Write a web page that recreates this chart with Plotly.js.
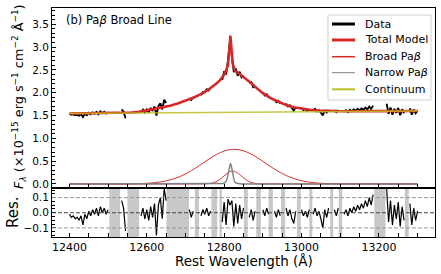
<!DOCTYPE html>
<html><head><meta charset="utf-8">
<script src="https://cdn.plot.ly/plotly-3.0.1.min.js"></script>
<style>html,body{margin:0;padding:0;background:#fff}#chart{width:441px;height:274px}</style>
</head><body><div id="chart"></div>
<script>
// Observed spectrum (rest wavelength, Å)
const wave=[12400,12405,12410,12415,12420,12425,12430,12435,12440,12445,12450,12455,12460,12465,12470,12475,12480,12485,12490,12495,
12500,12505,12510,12515,12520,12525,12530,12535,12540,12545,12550,12555,12560,12565,12570,12575,12580,12585,12590,12595,
12600,12605,12610,12615,12620,12625,12630,12635,12640,12645,12650,12655,12660,12665,12670,12675,12680,12685,12690,12695,
12700,12705,12710,12715,12720,12725,12730,12735,12740,12745,12750,12755,12760,12765,12770,12775,12780,12785,12790,12795,
12800,12805,12810,12815,12820,12825,12830,12835,12840,12845,12850,12855,12860,12865,12870,12875,12880,12885,12890,12895,
12900,12905,12910,12915,12920,12925,12930,12935,12940,12945,12950,12955,12960,12965,12970,12975,12980,12985,12990,12995,
13000,13005,13010,13015,13020,13025,13030,13035,13040,13045,13050,13055,13060,13065,13070,13075,13080,13085,13090,13095,
13100,13105,13110,13115,13120,13125,13130,13135,13140,13145,13150,13155,13160,13165,13170,13175,13180,13185,13190,13195,
13200,13205,13210,13215,13220,13225,13230,13235,13240,13245,13250,13255,13260,13265,13270,13275,13280,13285,13290,13295,
13300];
const flux=[1.535,1.515,1.526,1.506,1.516,1.497,1.527,1.467,1.537,1.508,1.558,1.528,1.569,1.539,1.579,1.530,1.590,1.550,1.581,1.541,
1.571,null,null,null,null,null,null,1.635,1.586,1.439,null,null,null,null,null,null,null,1.570,1.627,1.564,
1.630,1.567,1.665,1.602,1.700,1.498,1.707,1.766,1.635,1.845,1.775,null,null,null,null,null,null,null,null,null,
null,null,1.877,1.843,1.900,null,null,null,1.950,2.015,2.010,2.075,2.050,2.110,null,null,null,2.280,null,2.280,
2.470,2.400,2.710,3.150,2.780,2.450,2.530,2.370,2.460,2.340,2.380,null,null,2.215,2.230,2.120,2.140,null,null,null,
2.010,1.940,1.965,1.900,null,null,1.850,1.790,1.820,1.762,null,null,1.760,1.697,1.725,1.652,1.610,1.680,null,null,
1.665,1.620,1.645,1.600,1.645,null,1.610,1.644,1.590,1.617,1.565,1.502,1.620,1.569,1.628,null,null,1.617,1.576,1.626,
null,null,1.585,1.615,1.575,1.625,1.595,1.635,1.605,1.645,1.615,1.655,1.625,1.675,1.635,1.695,1.645,1.715,null,null,
null,null,null,null,1.757,1.537,1.677,1.517,1.647,1.557,1.667,1.507,1.637,1.547,null,null,1.659,1.519,1.629,1.549,
1.609];
const resid=[-0.01,-0.03,-0.02,-0.04,-0.03,-0.05,-0.02,-0.08,-0.01,-0.04,0.01,-0.02,0.02,-0.01,0.03,-0.02,0.04,0.00,0.03,-0.01,
0.02,null,null,null,null,null,null,0.08,0.03,-0.12,null,null,null,null,null,null,null,-0.02,0.03,-0.04,
0.02,-0.05,0.04,-0.03,0.06,-0.15,0.05,0.10,-0.04,0.16,0.08,null,null,null,null,null,null,null,null,null,
null,null,0.02,-0.03,0.01,null,null,null,-0.02,0.02,-0.01,0.03,-0.02,0.01,null,null,null,0.04,null,-0.06,
0.07,-0.08,0.09,0.05,0.08,-0.09,0.06,-0.07,0.05,-0.04,0.03,null,null,-0.03,0.02,-0.05,0.01,null,null,null,
0.02,-0.02,0.03,-0.01,null,null,0.01,-0.03,0.02,-0.02,null,null,0.03,-0.02,0.02,-0.04,-0.07,0.01,null,null,
0.02,-0.02,0.01,-0.03,0.02,null,-0.01,0.03,-0.02,0.01,-0.04,-0.10,0.02,-0.03,0.03,null,null,0.02,-0.02,0.03,
null,null,-0.01,0.02,-0.02,0.03,0.00,0.04,0.01,0.05,0.02,0.06,0.03,0.08,0.04,0.10,0.05,0.12,null,null,
null,null,null,null,0.16,-0.06,0.08,-0.08,0.05,-0.04,0.07,-0.09,0.04,-0.05,null,null,0.06,-0.08,0.03,-0.05,
0.01];

// Total model
const modelX=[12400,12450,12500,12540,12560,12580,12600,12620,12640,12660,12680,12700,12720,12740,12760,12780,12790,12800,12805,12810,12813,12815,12816,12817,12819,12822,12826,12830,12840,12850,12860,12870,12880,12890,12900,12920,12940,12960,12980,13000,13020,13040,13060,13100,13200,13300];
const modelY=[1.545,1.548,1.551,1.556,1.565,1.58,1.61,1.64,1.675,1.715,1.765,1.825,1.89,1.97,2.07,2.20,2.28,2.40,2.48,2.62,2.85,3.10,3.25,3.15,2.90,2.65,2.52,2.47,2.41,2.35,2.28,2.21,2.13,2.06,1.99,1.88,1.80,1.73,1.68,1.645,1.625,1.61,1.60,1.595,1.597,1.60];

// Broad Paβ components
const broadWideX=[12400,12546,12566,12586,12606,12626,12646,12666,12686,12706,12726,12746,12766,12786,12806,12826,12846,12866,12886,12906,12926,12946,12966,12986,13006,13026,13046,13066,13086,13106,13300];
const broadWideY=[0,0.001,0.004,0.008,0.017,0.033,0.060,0.103,0.164,0.247,0.348,0.461,0.574,0.671,0.737,0.760,0.737,0.671,0.574,0.461,0.348,0.247,0.164,0.103,0.060,0.033,0.017,0.008,0.004,0.001,0];
const broadCoreX=[12400,12722,12742,12752,12762,12772,12782,12787,12792,12797,12802,12807,12812,12817,12822,12827,12832,12837,12842,12847,12852,12857,12862,12872,12882,12892,12902,12922,13300];
const broadCoreY=[0,0,0.001,0.003,0.009,0.026,0.062,0.088,0.120,0.155,0.192,0.226,0.255,0.273,0.280,0.273,0.255,0.226,0.192,0.155,0.120,0.088,0.062,0.026,0.009,0.003,0.001,0,0];

// Narrow Paβ
const narrowX=[12400,12786,12796,12801,12804,12806,12808,12810,12812,12814,12816,12818,12820,12822,12824,12826,12828,12831,12836,12846,13300];
const narrowY=[0,0,0.008,0.02,0.04,0.07,0.125,0.219,0.327,0.415,0.45,0.415,0.327,0.219,0.125,0.07,0.04,0.02,0.008,0,0];

// Continuum
const contX=[12400,13300];
const contY=[1.545,1.600];

// Masked wavelength windows (shaded in residual panel)
const maskLo=[12503,12550,12651,12724,12767,12788,12851,12883,12915,12947,12988,13020,13074,13096,13188,13267];
const maskHi=[12531,12580,12709,12735,12782,12794,12861,12895,12926,12958,12998,13028,13082,13105,13217,13277];

// Legend
const legendLabels=['Data','Total Model','Broad Pa<i>β</i>','Narrow Pa<i>β</i>','Continuum'];
const legendColors=['black','#d62728','#d62728','#808080','#bcbd22'];
const legendWidths=[3,3,1.5,1,2];

const RED='#d62728';
const F='DejaVu Sans';
const traces=[
 {x:wave,y:flux,xaxis:'x2',yaxis:'y2',type:'scatter',mode:'lines',line:{color:'black',width:1.9},connectgaps:false,hoverinfo:'skip'},
 {x:modelX,y:modelY,xaxis:'x2',yaxis:'y2',type:'scatter',mode:'lines',line:{color:RED,width:2.6},hoverinfo:'skip'},
 {x:broadWideX,y:broadWideY,xaxis:'x2',yaxis:'y2',type:'scatter',mode:'lines',line:{color:RED,width:1,shape:'spline',smoothing:0.8},hoverinfo:'skip'},
 {x:broadCoreX,y:broadCoreY,xaxis:'x2',yaxis:'y2',type:'scatter',mode:'lines',line:{color:RED,width:1,shape:'spline',smoothing:0.8},hoverinfo:'skip'},
 {x:narrowX,y:narrowY,xaxis:'x2',yaxis:'y2',type:'scatter',mode:'lines',line:{color:'#808080',width:1.4},hoverinfo:'skip'},
 {x:contX,y:contY,xaxis:'x2',yaxis:'y2',type:'scatter',mode:'lines',line:{color:'#bcbd22',width:1.5},opacity:0.85,hoverinfo:'skip'},
 {x:wave,y:resid,xaxis:'x',yaxis:'y',type:'scatter',mode:'lines',line:{color:'black',width:1.2},connectgaps:false,hoverinfo:'skip'}
];

const shapes=[];
for(let i=0;i<maskLo.length;i++){
 shapes.push({type:'rect',xref:'x',yref:'y domain',x0:maskLo[i],x1:maskHi[i],y0:0,y1:1,fillcolor:'#c8c8c8',line:{width:0},layer:'below'});
}
shapes.push({type:'line',xref:'x domain',yref:'y',x0:0,x1:1,y0:0.1,y1:0.1,line:{color:'#999',width:1,dash:'4px,2px'}});
shapes.push({type:'line',xref:'x domain',yref:'y',x0:0,x1:1,y0:-0.1,y1:-0.1,line:{color:'#999',width:1,dash:'4px,2px'}});
shapes.push({type:'line',xref:'x domain',yref:'y',x0:0,x1:1,y0:0,y1:0,line:{color:'#444',width:1,dash:'4px,2px'}});

// manual legend
const LX0=0.7206,LX1=0.9896,LY0=0.5983,LY1=0.9694;
shapes.push({type:'rect',xref:'paper',yref:'paper',x0:LX0,x1:LX1,y0:LY0,y1:LY1,fillcolor:'rgba(255,255,255,0.85)',line:{color:'#d0d0d0',width:1},layer:'above'});
const rowY=[0.9301,0.8603,0.7873,0.7175,0.6450];
const annotations=[];
for(let i=0;i<legendLabels.length;i++){
 shapes.push({type:'line',xref:'paper',yref:'paper',x0:0.7311,x1:0.7911,y0:rowY[i],y1:rowY[i],line:{color:legendColors[i],width:legendWidths[i]},layer:'above'});
 annotations.push({xref:'paper',yref:'paper',x:0.812,y:rowY[i],xanchor:'left',yanchor:'middle',text:legendLabels[i],showarrow:false,font:{family:F,size:11,color:'black'}});
}
annotations.push({xref:'paper',yref:'paper',x:0.031,y:0.9476,xanchor:'left',yanchor:'middle',text:'(b) Pa<i>β</i> Broad Line',showarrow:false,font:{family:F,size:11.5,color:'black'}});
annotations.push({xref:'paper',yref:'paper',x:-0.088,y:0.613,xanchor:'center',yanchor:'middle',textangle:-90,text:'<i>F</i><sub><i>λ</i></sub> (×10<sup>−15</sup> erg s<sup>−1</sup> cm<sup>−2</sup> Å<sup>−1</sup>)',showarrow:false,font:{family:F,size:12.8,color:'black'}});
annotations.push({xref:'paper',yref:'paper',x:-0.102,y:0.109,xanchor:'center',yanchor:'middle',textangle:-90,text:'Res.',showarrow:false,font:{family:F,size:15,color:'black'}});
annotations.push({xref:'paper',yref:'paper',x:0.5,y:-0.1048,xanchor:'center',yanchor:'middle',text:'Rest Wavelength (Å)',showarrow:false,font:{family:F,size:13.5,color:'black'}});

const axCommon={showline:true,linecolor:'black',linewidth:1,mirror:true,showgrid:false,zeroline:false,ticks:'inside',ticklen:4,tickwidth:1,tickcolor:'black'};
const layout={
 width:441,height:274,margin:{l:52,r:6,t:8,b:37},
 paper_bgcolor:'white',plot_bgcolor:'white',showlegend:false,
 font:{family:F,size:11,color:'black'},
 xaxis:Object.assign({},axCommon,{domain:[0,1],anchor:'y',range:[12355,13345],tickmode:'linear',tick0:12400,dtick:200,tickformat:'d',tickfont:{family:F,size:11},
   minor:{tickmode:'linear',tick0:12400,dtick:50,ticks:'inside',ticklen:4,tickcolor:'black',showgrid:false}}),
 xaxis2:Object.assign({},axCommon,{domain:[0,1],anchor:'y2',matches:'x',range:[12355,13345],tickmode:'linear',tick0:12400,dtick:200,showticklabels:false,
   minor:{tickmode:'linear',tick0:12400,dtick:50,ticks:'inside',ticklen:4,tickcolor:'black',showgrid:false}}),
 yaxis:Object.assign({},axCommon,{domain:[0,0.2118],anchor:'x',range:[-0.16,0.16],tickmode:'linear',tick0:0,dtick:0.1,tickformat:'.1f',tickfont:{family:F,size:10.5},
   minor:{tickmode:'linear',tick0:0,dtick:0.025,ticks:'inside',ticklen:2.5,tickcolor:'black',showgrid:false}}),
 yaxis2:Object.assign({},axCommon,{domain:[0.2118,1],anchor:'x2',range:[-0.1,3.857],tickmode:'linear',tick0:0,dtick:0.5,tickformat:'.1f',tickfont:{family:F,size:10.5},
   minor:{tickmode:'linear',tick0:0,dtick:0.1,ticks:'inside',ticklen:2.5,tickcolor:'black',showgrid:false}}),
 shapes:shapes,annotations:annotations
};
Plotly.newPlot('chart',traces,layout,{displayModeBar:false,staticPlot:true});
</script></body></html>
